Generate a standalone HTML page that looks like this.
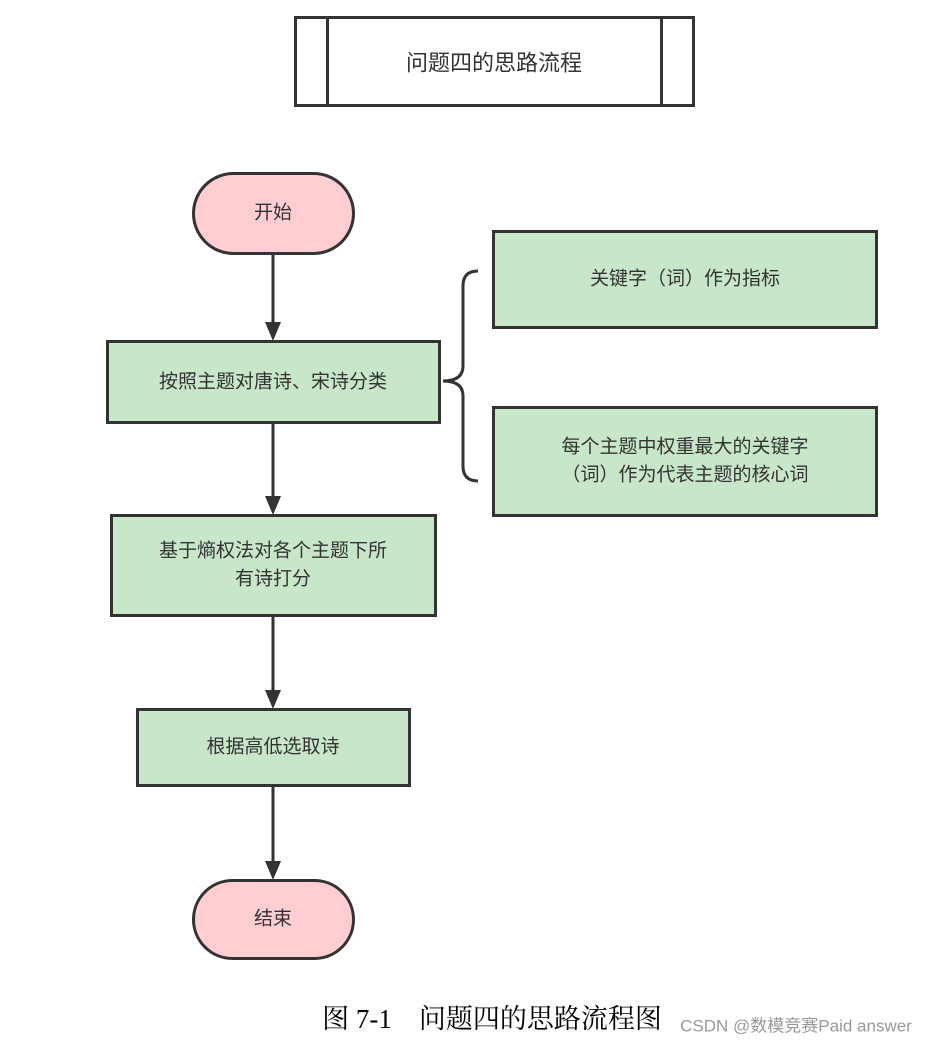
<!DOCTYPE html>
<html><head><meta charset="utf-8"><style>
body{margin:0;background:#fff;}
svg{display:block}
text{font-family:"Liberation Sans","Noto Sans CJK SC",sans-serif;font-size:19px;fill:#333;text-anchor:middle;dominant-baseline:central}
</style></head><body>
<svg width="940" height="1046" viewBox="0 0 940 1046">
<defs><marker id="a" markerWidth="10" markerHeight="10" refX="8" refY="5" orient="auto" markerUnits="userSpaceOnUse"><path d="M0,0 L0,0" /></marker></defs>
<g stroke="#333" stroke-width="3" fill="none">
<rect x="295.5" y="17.5" width="398" height="88" fill="#fff"/>
<line x1="327.5" y1="17" x2="327.5" y2="106"/>
<line x1="661.5" y1="17" x2="661.5" y2="106"/>
<rect x="193.5" y="173.5" width="160" height="80" rx="40" fill="#ffcdd2"/>
<rect x="107.5" y="341.5" width="332" height="81" fill="#c8e6c9"/>
<rect x="493.5" y="231.5" width="383" height="96" fill="#c8e6c9"/>
<rect x="493.5" y="407.5" width="383" height="108" fill="#c8e6c9"/>
<rect x="111.5" y="515.5" width="324" height="100" fill="#c8e6c9"/>
<rect x="137.5" y="709.5" width="272" height="76" fill="#c8e6c9"/>
<rect x="193.5" y="880.5" width="160" height="78" rx="39" fill="#ffcdd2"/>
<line x1="273" y1="254" x2="273" y2="324"/>
<line x1="273" y1="423" x2="273" y2="498"/>
<line x1="273" y1="616" x2="273" y2="692"/>
<line x1="273" y1="786" x2="273" y2="863"/>
<path d="M478,271 Q463,271 463,286 L463,366 Q463,381 443,381 Q463,381 463,396 L463,466 Q463,481 478,481"/>
</g>
<g fill="#333">
<path d="M265,322 L281,322 L273,341 Z"/>
<path d="M265,496 L281,496 L273,515 Z"/>
<path d="M265,690 L281,690 L273,709 Z"/>
<path d="M265,861 L281,861 L273,880 Z"/>
</g>
<text x="494" y="63" style="font-size:22px">问题四的思路流程</text>
<text x="273" y="213">开始</text>
<text x="273" y="382">按照主题对唐诗、宋诗分类</text>
<text x="685" y="279">关键字（词）作为指标</text>
<text x="685" y="447">每个主题中权重最大的关键字</text>
<text x="685" y="475">（词）作为代表主题的核心词</text>
<text x="273" y="551">基于熵权法对各个主题下所</text>
<text x="273" y="579">有诗打分</text>
<text x="273" y="747">根据高低选取诗</text>
<text x="273" y="919">结束</text>
<text x="492" y="1019" style="font-family:'Liberation Serif','Noto Serif CJK SC',serif;font-size:27px;fill:#000">图 7-1　问题四的思路流程图</text>
<text x="796" y="1026" style="font-size:17px;fill:#999">CSDN @数模竞赛Paid answer</text>
</svg>
</body></html>
